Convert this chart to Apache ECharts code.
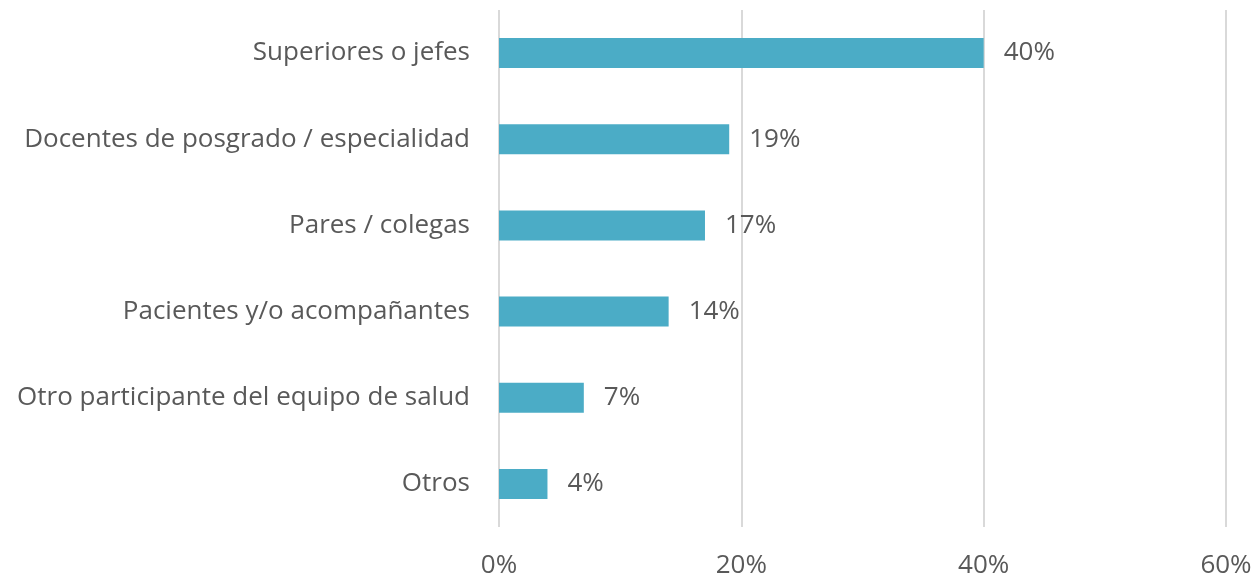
<!DOCTYPE html>
<html>
<head>
<meta charset="utf-8">
<script src="https://cdn.jsdelivr.net/npm/echarts@6/dist/echarts.min.js"></script>
<style>
  html, body { margin: 0; padding: 0; background: #fff; }
  #chart { width: 1260px; height: 579px; }
</style>
</head>
<body>
<div id="chart"></div>
<script>
  // categorias de arriba hacia abajo
  var categorias = [
    'Superiores o jefes',
    'Docentes de posgrado / especialidad',
    'Pares / colegas',
    'Pacientes y/o acompañantes',
    'Otro participante del equipo de salud',
    'Otros'
  ];
  var valores = [40, 19, 17, 14, 7, 4];
  var ticks = [0, 20, 40, 60];

  var chart = echarts.init(document.getElementById('chart'));
  var fuente = '"Open Sans"';
  chart.setOption({
    animation: false,
    grid: { left: 499, right: 34, top: 10, bottom: 52 },
    xAxis: {
      type: 'value',
      min: ticks[0],
      max: ticks[ticks.length - 1],
      interval: 20,
      axisLine: { show: false },
      axisTick: { show: false },
      splitLine: { show: true, lineStyle: { color: '#d9d9d9', width: 2 } },
      axisLabel: {
        margin: 26,
        color: '#595959',
        fontFamily: fuente,
        fontSize: 26,
        formatter: '{value}%'
      }
    },
    yAxis: {
      type: 'category',
      inverse: true,
      data: categorias,
      axisLine: { show: false },
      axisTick: { show: false },
      axisLabel: {
        margin: 29,
        color: '#595959',
        fontFamily: fuente,
        fontSize: 26
      }
    },
    series: [{
      type: 'bar',
      data: valores,
      barWidth: 30,
      itemStyle: { color: '#4bacc6' },
      label: {
        show: true,
        position: 'right',
        distance: 20,
        color: '#595959',
        fontFamily: fuente,
        fontSize: 26,
        padding: [4, 0, 0, 0],
        formatter: '{c}%'
      }
    }]
  });
</script>
</body>
</html>
